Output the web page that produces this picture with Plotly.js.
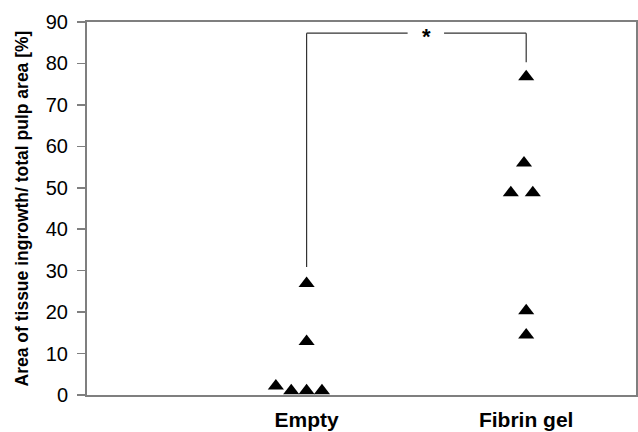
<!DOCTYPE html>
<html>
<head>
<meta charset="utf-8">
<script src="https://cdn.plot.ly/plotly-3.0.1.min.js"></script>
<style>html,body{margin:0;padding:0;background:#fff;}#chart{width:638px;height:432px;}</style>
</head>
<body>
<div id="chart"></div>
<script>
// Category labels and their x positions
var categories = ["Empty", "Fibrin gel"];
var categoryX = [1, 2];

// Empty group (x jitter, y values in %)
var emptyX = [1, 1, 0.86, 0.93, 1.0, 1.07];
var emptyY = [26.9, 12.9, 2.2, 1.0, 1.0, 1.0];

// Fibrin gel group
var fibrinX = [2, 1.99, 1.93, 2.03, 2, 2];
var fibrinY = [76.8, 56.0, 48.8, 48.8, 20.3, 14.5];

// Y axis ticks
var yTicks = [0, 10, 20, 30, 40, 50, 60, 70, 80, 90];

// Significance bracket
var bracketTopY = 87.3;
var bracketLeftBottomY = 30.9;
var bracketRightBottomY = 80.3;
var bracketGapX = [1.46, 1.626];
var starX = 1.548;
var starLabel = "*";

var marker = {symbol: "triangle-up", size: 14, color: "#000"};

var traces = [
  {x: emptyX, y: emptyY, type: "scatter", mode: "markers", marker: marker, hoverinfo: "y", showlegend: false},
  {x: fibrinX, y: fibrinY, type: "scatter", mode: "markers", marker: marker, hoverinfo: "y", showlegend: false}
];

var lineStyle = {color: "#333", width: 1.2};
var shapes = [
  {type: "line", xref: "x", yref: "y", x0: categoryX[0], x1: categoryX[0], y0: bracketLeftBottomY, y1: bracketTopY, line: lineStyle},
  {type: "line", xref: "x", yref: "y", x0: categoryX[0], x1: bracketGapX[0], y0: bracketTopY, y1: bracketTopY, line: lineStyle},
  {type: "line", xref: "x", yref: "y", x0: bracketGapX[1], x1: categoryX[1], y0: bracketTopY, y1: bracketTopY, line: lineStyle},
  {type: "line", xref: "x", yref: "y", x0: categoryX[1], x1: categoryX[1], y0: bracketTopY, y1: bracketRightBottomY, line: lineStyle}
];

var layout = {
  width: 638, height: 432,
  margin: {l: 87, r: 2, t: 22, b: 37},
  paper_bgcolor: "#fff", plot_bgcolor: "#fff",
  font: {family: "Liberation Sans, Arial, sans-serif", color: "#000"},
  showlegend: false,
  xaxis: {
    range: [0, 2.5], tickvals: categoryX, ticktext: categories,
    showgrid: false, zeroline: false, showline: true, mirror: true,
    linecolor: "#7f7f7f", linewidth: 2, ticks: "",
    tickfont: {size: 21, family: "Liberation Sans, Arial, sans-serif", weight: "bold"},
    ticklabelstandoff: 5, fixedrange: true
  },
  yaxis: {
    range: [0, 90], tickvals: yTicks,
    showgrid: false, zeroline: false, showline: true, mirror: true,
    linecolor: "#7f7f7f", linewidth: 2, ticks: "outside", ticklen: 8, tickwidth: 1.5, tickcolor: "#7f7f7f",
    tickfont: {size: 20}, ticklabelstandoff: 5,
    title: {text: "<b>Area of tissue ingrowth/ total pulp area [%]</b>", font: {size: 17.5}, standoff: 13},
    fixedrange: true
  },
  shapes: shapes,
  annotations: [
    {x: starX, y: bracketTopY, xref: "x", yref: "y", text: "<b>" + starLabel + "</b>", showarrow: false,
     font: {size: 22}, yshift: -3}
  ]
};

Plotly.newPlot("chart", traces, layout, {displayModeBar: false, staticPlot: true});
</script>
</body>
</html>
